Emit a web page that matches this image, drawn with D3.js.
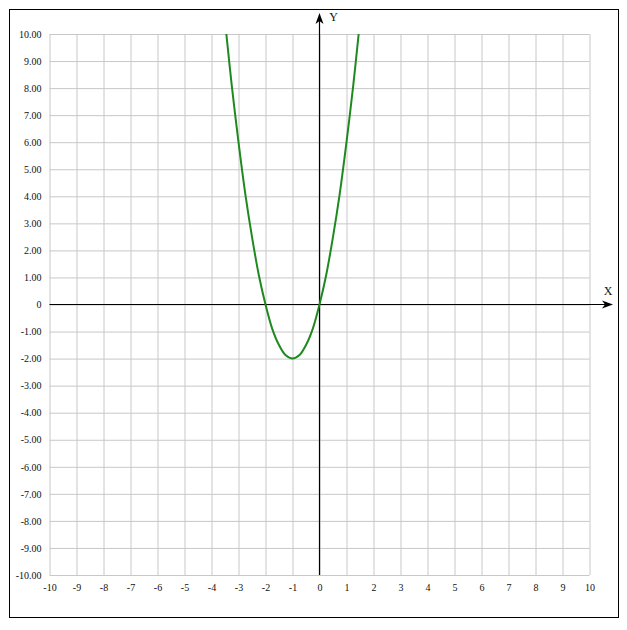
<!DOCTYPE html>
<html><head><meta charset="utf-8">
<script src="https://cdn.jsdelivr.net/npm/d3@7"></script>
<style>
body{margin:0;background:#fff;}
svg text{font-family:"Liberation Serif","Times New Roman",serif;}
</style></head>
<body><svg id="c" width="627" height="630"></svg>
<script>
const xTicks = d3.range(-10, 11, 1);
const yTicks = d3.range(-10, 11, 1);
const curveX = [-3.45, -3.25, -3, -2.75, -2.5, -2.25, -2, -1.75, -1.5, -1.25, -1, -0.75, -0.5, -0.25, 0, 0.25, 0.5, 0.75, 1, 1.25, 1.45];
const curveY = [10, 8.1, 6, 4.1, 2.5, 1.1, 0, -0.9, -1.5, -1.88, -2, -1.88, -1.5, -0.9, 0, 1.1, 2.5, 4.1, 6, 8.1, 10];
const xLabel = "X";
const yLabel = "Y";

const svg = d3.select("#c");
const L = 49.5, R = 589.5, T = 34, B = 575;
const x = d3.scaleLinear().domain([-10, 10]).range([L, R]);
const y = d3.scaleLinear().domain([-10, 10]).range([B, T]);

svg.append("rect").attr("x", 9.5).attr("y", 9.5).attr("width", 609).attr("height", 608)
  .attr("fill", "#fff").attr("stroke", "#000").attr("stroke-width", 1);

const gy = svg.append("g").attr("transform", `translate(${L},0)`)
  .call(d3.axisLeft(y).tickValues(yTicks).tickSize(-(R - L)).tickPadding(8)
    .tickFormat(d => d === 0 ? "0" : d.toFixed(2)));
const gx = svg.append("g").attr("transform", `translate(0,${B})`)
  .call(d3.axisBottom(x).tickValues(xTicks).tickSize(-(B - T)).tickPadding(9)
    .tickFormat(d => String(d)));
[gy, gx].forEach(g => {
  g.attr("font-family", '"Liberation Serif","Times New Roman",serif');
  g.select(".domain").remove();
  g.selectAll(".tick line").attr("stroke", "#c8c8c8").attr("stroke-width", 1);
  g.selectAll(".tick text").attr("fill", "#111").style("font-size", "10px")
    .style("font-family", '"Liberation Serif","Times New Roman",serif');
});

const x0 = x(0), y0 = y(0);
svg.append("line").attr("x1", L).attr("x2", 610).attr("y1", y0).attr("y2", y0)
  .attr("stroke", "#000").attr("stroke-width", 1.2);
svg.append("line").attr("x1", x0).attr("x2", x0).attr("y1", B).attr("y2", 17)
  .attr("stroke", "#000").attr("stroke-width", 1.2);
svg.append("path").attr("d", `M${613},${y0} L${602},${y0 - 4} L${605},${y0} L${602},${y0 + 4} Z`).attr("fill", "#000");
svg.append("path").attr("d", `M${x0},${13} L${x0 - 4},${24} L${x0},${21} L${x0 + 4},${24} Z`).attr("fill", "#000");

svg.append("text").attr("x", 608).attr("y", 295).attr("text-anchor", "middle")
  .style("font-size", "12px").attr("fill", "#111").text(xLabel);
svg.append("text").attr("x", 333.5).attr("y", 21).attr("text-anchor", "middle")
  .style("font-size", "12px").attr("fill", "#111").text(yLabel);

const pts = curveX.map((v, i) => [v, curveY[i]]);
svg.append("path").datum(pts)
  .attr("d", d3.line().x(d => x(d[0])).y(d => y(d[1])).curve(d3.curveCatmullRom.alpha(0.5)))
  .attr("fill", "none").attr("stroke", "#1e8a1e").attr("stroke-width", 2);
</script></body></html>
